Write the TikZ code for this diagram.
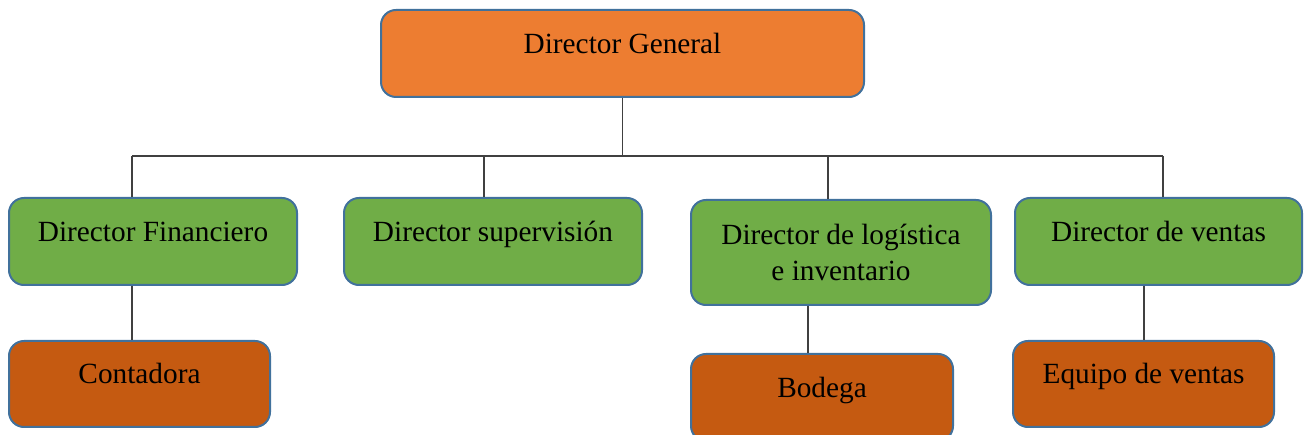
\documentclass[tikz,border=0pt]{standalone}
\usepackage{fontspec}
\setmainfont{Liberation Serif}
\definecolor{borde}{HTML}{41719C}
\definecolor{naranja}{HTML}{ED7D31}
\definecolor{verde}{HTML}{70AD47}
\definecolor{cafe}{HTML}{C55A11}
\definecolor{linea}{HTML}{404040}
\begin{document}
\begin{tikzpicture}[x=1pt, y=-1pt, cargo/.style={draw=borde, line width=2pt, rounded corners=15pt, inner sep=0pt, align=center, font=\fontsize{29.3}{36.5}\selectfont, minimum height=87pt}, uno/.style={text height=12pt, text depth=12pt}, conn/.style={draw=linea, line width=1.2pt}]
        \useasboundingbox (0,0) rectangle (1304,435);
        \clip (0,0) rectangle (1304,435);

        \node[cargo, uno, fill=naranja, minimum width=483pt] (dg) at (622.5,53.5) {Director General};

        \node[cargo, uno, fill=verde, minimum width=288pt] (df) at (153,241.5) {Director Financiero};\node[cargo, uno, fill=verde, minimum width=298pt] (ds) at (493,241.5) {Director supervisión};
        \node[cargo, fill=verde, minimum width=300pt, minimum height=105pt] (dl) at (841,252.5) {Director de logística\\e inventario};\node[cargo, uno, fill=verde, minimum width=287pt] (dv) at (1158.5,241.5) {Director de ventas};

        \node[cargo, uno, fill=cafe, minimum width=261pt, minimum height=86pt] (cont) at (139.5,384) {Contadora};\node[cargo, uno, fill=cafe, minimum width=262pt] (bod) at (822,397.5) {Bodega};\node[cargo, uno, fill=cafe, minimum width=261pt, minimum height=86pt] (eq) at (1143.5,384) {Equipo de ventas};

        % barra y bajadas
        \coordinate (b1) at (132,156);\coordinate (b2) at (484,156);\coordinate (b3) at (828,156);\coordinate (b4) at (1163,156);
        \draw[conn] (dg.south) -- (dg.south |- b1);\draw[conn] (b1) -- (b4);
        \draw[conn] (b1) -- (b1 |- df.north);\draw[conn] (b2) -- (b2 |- ds.north);\draw[conn] (b3) -- (b3 |- dl.north);\draw[conn] (b4) -- (b4 |- dv.north);

        \coordinate (h1) at (132,0);\coordinate (h2) at (808,0);\coordinate (h3) at (1144,0);
        \draw[conn] (h1 |- df.south) -- (h1 |- cont.north);\draw[conn] (h2 |- dl.south) -- (h2 |- bod.north);\draw[conn] (h3 |- dv.south) -- (h3 |- eq.north);
    \end{tikzpicture}
\end{document}
